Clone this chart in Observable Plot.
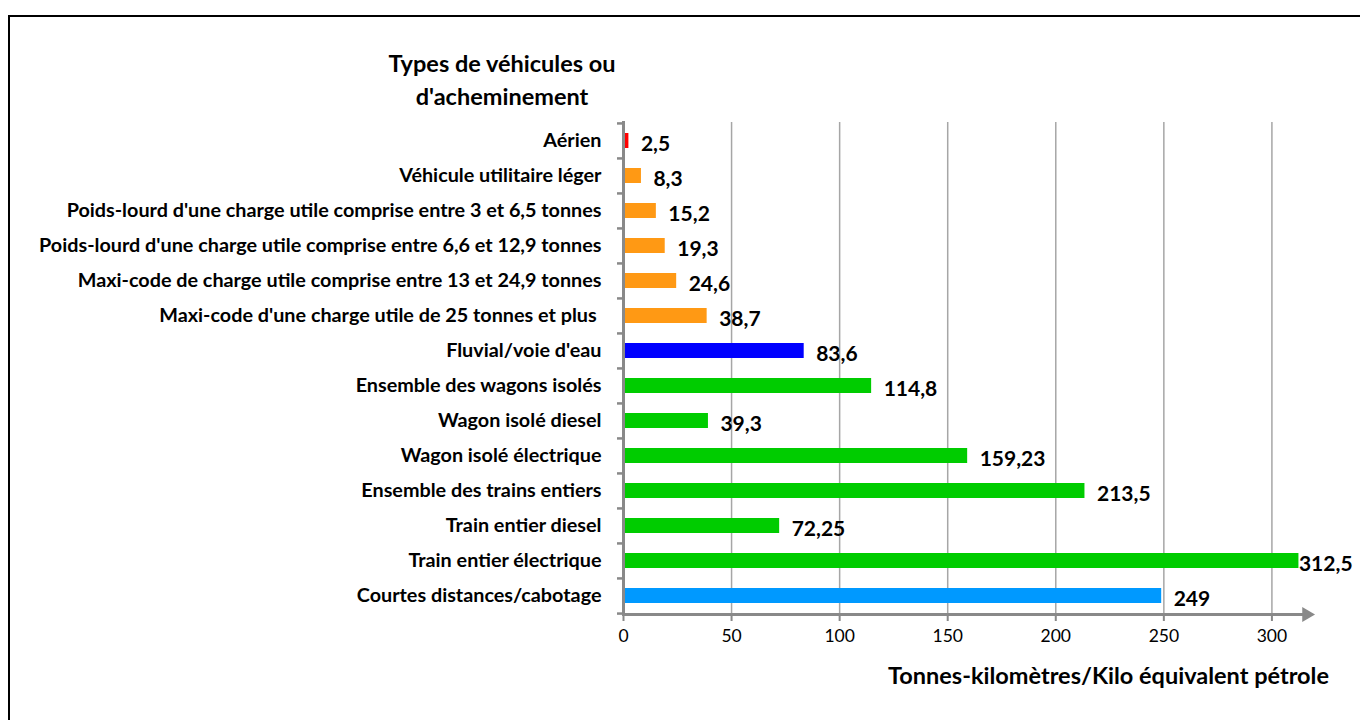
<!DOCTYPE html>
<html>
<head>
<meta charset="utf-8">
<script src="https://cdn.jsdelivr.net/npm/d3@7"></script>
<script src="https://cdn.jsdelivr.net/npm/@observablehq/plot@0.6"></script>
<style>
  html, body { margin: 0; padding: 0; background: #fff; }
  #wrap { position: relative; width: 1360px; height: 720px; overflow: hidden; font-family: Lato, "Open Sans", sans-serif; }
  #border { position: absolute; left: 8px; top: 15px; width: 2000px; height: 2000px; border-left: 2px solid #000; border-top: 2px solid #000; }
  #title { position: absolute; left: 252px; width: 500px; top: 47px; text-align: center; font-weight: bold; font-size: 23.5px; line-height: 33px; color: #000; }
  #xtitle { position: absolute; right: 31px; top: 660px; font-weight: bold; font-size: 23.5px; line-height: 30px; color: #000; white-space: nowrap; }
  #chart { position: absolute; left: 0; top: 0; }
</style>
</head>
<body>
<div id="wrap">
  <div id="border"></div>
  <div id="chart"></div>
  <div id="title">Types de véhicules ou<br>d'acheminement</div>
  <div id="xtitle">Tonnes-kilomètres/Kilo équivalent pétrole</div>
</div>
<script>
const categories = [
  "Aérien",
  "Véhicule utilitaire léger",
  "Poids-lourd d'une charge utile comprise entre 3 et 6,5 tonnes",
  "Poids-lourd d'une charge utile comprise entre 6,6 et 12,9 tonnes",
  "Maxi-code de charge utile comprise entre 13 et 24,9 tonnes",
  "Maxi-code d'une charge utile de 25 tonnes et plus\u00a0",
  "Fluvial/voie d'eau",
  "Ensemble des wagons isolés",
  "Wagon isolé diesel",
  "Wagon isolé électrique",
  "Ensemble des trains entiers",
  "Train entier diesel",
  "Train entier électrique",
  "Courtes distances/cabotage"
];
const values = [2.5, 8.3, 15.2, 19.3, 24.6, 38.7, 83.6, 114.8, 39.3, 159.23, 213.5, 72.25, 312.5, 249];
const valueLabels = ["2,5", "8,3", "15,2", "19,3", "24,6", "38,7", "83,6", "114,8", "39,3", "159,23", "213,5", "72,25", "312,5", "249"];
const modes = ["Aérien", "Routier", "Routier", "Routier", "Routier", "Routier", "Fluvial",
  "Ferroviaire", "Ferroviaire", "Ferroviaire", "Ferroviaire", "Ferroviaire", "Ferroviaire", "Maritime"];
const modeNames = ["Aérien", "Routier", "Fluvial", "Ferroviaire", "Maritime"];
const modeColors = ["#ff0000", "#ff9914", "#0000ff", "#00cc00", "#0099ff"];
const xTicks = [0, 50, 100, 150, 200, 250, 300];

const data = categories.map((c, i) => ({category: c, value: values[i], label: valueLabels[i], mode: modes[i]}));

const W = 1360, H = 720, mTop = 122, mBottom = 106, mLeft = 623, mRight = 54;
const step = (H - mTop - mBottom) / categories.length;
const axisColor = "#898989";

const chart = Plot.plot({
  width: W, height: H,
  marginLeft: mLeft, marginRight: mRight, marginTop: mTop, marginBottom: mBottom,
  style: {fontFamily: "Lato, 'Open Sans', sans-serif", color: "#000", background: "transparent"},
  x: {domain: [0, 316], axis: null},
  y: {domain: categories, paddingInner: 0.57, paddingOuter: 0.285, axis: null},
  color: {domain: modeNames, range: modeColors},
  marks: [
    Plot.ruleX(xTicks.slice(1), {stroke: "#a6a6a6", strokeWidth: 1.5}),
    Plot.barX(data, {x: "value", y: "category", fill: "mode"}),
    Plot.frame({anchor: "left", stroke: axisColor, strokeWidth: 3, strokeOpacity: 1}),
    Plot.frame({anchor: "bottom", stroke: axisColor, strokeWidth: 3, strokeOpacity: 1}),
    Plot.dot([316], {x: d => d, frameAnchor: "bottom", symbol: "triangle", rotate: 90, r: 5.5, fill: axisColor, stroke: null}),
    Plot.axisX({ticks: xTicks, tickSize: 7, stroke: axisColor, strokeWidth: 2, strokeOpacity: 1, tickPadding: 8, fontSize: 17.5, label: null, tickFormat: d => String(d)}),
    Plot.axisY({tickSize: 0, tickPadding: 22, fontSize: 19.8, fontWeight: "bold", label: null}),
    Plot.axisY({text: null, tickSize: 6, stroke: axisColor, strokeWidth: 2.5, strokeOpacity: 1, dy: -step / 2, label: null}),
    Plot.axisY({ticks: [categories[categories.length - 1]], text: null, tickSize: 6, stroke: axisColor, strokeWidth: 2.5, strokeOpacity: 1, dy: step / 2, label: null}),
    Plot.text(data.filter(d => d.value < 300), {x: "value", y: "category", text: "label", dx: 12, dy: 3, textAnchor: "start", fontWeight: "bold", fontSize: 21, fill: "#000"}),
    Plot.text(data.filter(d => d.value >= 300), {x: "value", y: "category", text: "label", dx: 0, dy: 3, textAnchor: "start", fontWeight: "bold", fontSize: 21, fill: "#000"})
  ]
});
document.getElementById("chart").appendChild(chart);
</script>
</body>
</html>
